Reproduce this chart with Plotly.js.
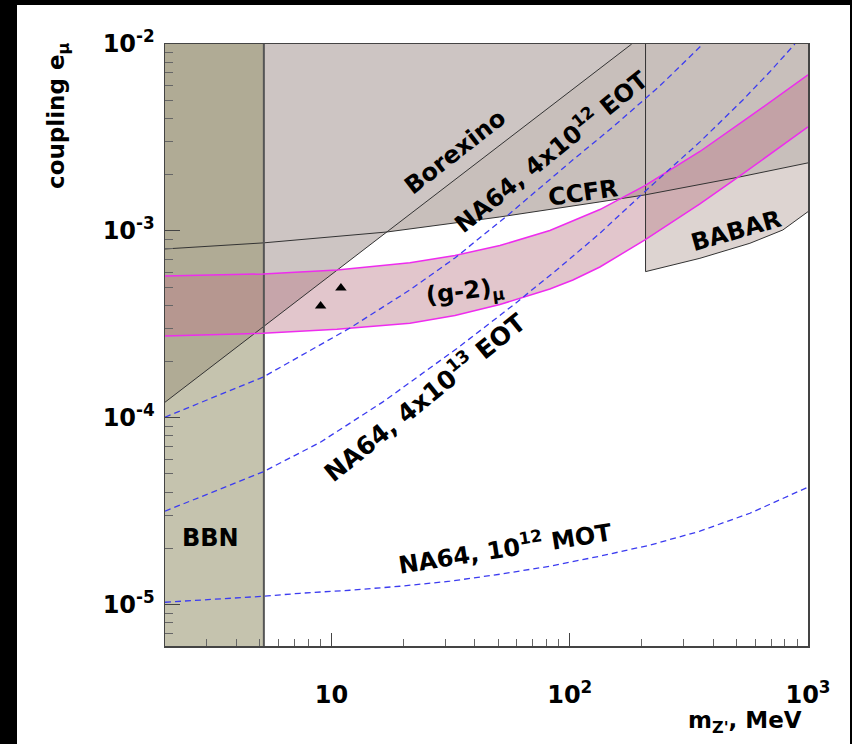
<!DOCTYPE html>
<html><head><meta charset="utf-8">
<script src="https://cdn.plot.ly/plotly-3.0.1.min.js"></script>
<style>
html,body{margin:0;padding:0;background:#000;width:852px;height:744px;overflow:hidden}
#chart{position:absolute;left:17px;top:5px;width:833px;height:739px;background:#fff}
</style></head><body><div id="chart"></div>
<script>
// ---- axis limits & tick labels ----
const xMin = 2, xMax = 1000, yMin = 6e-6, yMax = 1e-2;
const xTickVals = [10, 100, 1000];
const xTickText = ['10', '10<sup>2</sup>', '10<sup>3</sup>'];
const xMinorVals = [3, 4, 5, 6, 7, 8, 9, 20, 30, 40, 50, 60, 70, 80, 90, 200, 300, 400, 500, 600, 700, 800, 900];
const yTickVals = [1e-5, 1e-4, 1e-3, 1e-2];
const yTickText = ['10<sup>-5</sup>', '10<sup>-4</sup>', '10<sup>-3</sup>', '10<sup>-2</sup>'];
const yMinorVals = [6e-6, 7e-6, 8e-6, 9e-6, 2e-5, 3e-5, 4e-5, 5e-5, 6e-5, 7e-5, 8e-5, 9e-5,
  2e-4, 3e-4, 4e-4, 5e-4, 6e-4, 7e-4, 8e-4, 9e-4, 2e-3, 3e-3, 4e-3, 5e-3, 6e-3, 7e-3, 8e-3, 9e-3];

// ---- excluded regions ----
const bbnMass = 5.2;      // MeV
const babarMass = 208;    // MeV
const borexinoX = [2, 182];
const borexinoY = [1.21e-4, 1.0e-2];
const ccfrX = [2, 5.16, 17.08, 50.9, 133.8, 206.8, 517.7, 1000];
const ccfrY = [8.0e-4, 8.62e-4, 9.86e-4, 1.187e-3, 1.429e-3, 1.557e-3, 1.944e-3, 2.311e-3];
const babarX = [208, 351.8, 570.4, 784.3, 1000];
const babarY = [6.05e-4, 7.13e-4, 8.58e-4, 1.011e-3, 1.267e-3];

// ---- (g-2)mu band ----
const g2UpX = [2, 5.16, 10.54, 21.34, 32.96, 50.9, 82.5, 133.8, 206.8, 351.8, 570.4, 1000];
const g2UpY = [5.73e-4, 5.88e-4, 6.17e-4, 6.757e-4, 7.383e-4, 8.34e-4, 1.004e-3, 1.300e-3, 1.746e-3, 2.659e-3, 4.094e-3, 6.84e-3];
const g2LoX = [2, 5.16, 10.54, 21.34, 32.96, 50.9, 82.5, 103.1, 133.8, 206.8, 351.8, 517.7, 1000];
const g2LoY = [2.736e-4, 2.828e-4, 2.971e-4, 3.199e-4, 3.523e-4, 4.034e-4, 4.885e-4, 5.458e-4, 6.405e-4, 8.94e-4, 1.393e-3, 1.968e-3, 3.60e-3];

// ---- NA64 projections ----
const eot12X = [2, 5.16, 11.95, 21.34, 32.96, 54.5, 103.1, 151.8, 238.9, 362.2];
const eot12Y = [1.007e-4, 1.65e-4, 3.02e-4, 4.83e-4, 7.16e-4, 1.202e-3, 2.398e-3, 3.60e-3, 5.97e-3, 1.0e-2];
const eot13X = [2, 5.16, 8.98, 16.44, 33.6, 57.7, 88.3, 133.8, 217, 351.8, 533, 691.5, 880.6];
const eot13Y = [3.16e-5, 5.13e-5, 7.39e-5, 1.215e-4, 2.345e-4, 3.99e-4, 6.187e-4, 9.707e-4, 1.718e-3, 2.994e-3, 5.02e-3, 7.10e-3, 1.0e-2];
const motX = [2, 5.2, 7.37, 11.95, 19.37, 31.4, 50.9, 82.5, 133.8, 217, 351.8, 570.4, 1000];
const motY = [1.029e-5, 1.108e-5, 1.149e-5, 1.193e-5, 1.253e-5, 1.333e-5, 1.453e-5, 1.604e-5, 1.815e-5, 2.08e-5, 2.47e-5, 3.08e-5, 4.25e-5];

// ---- measured points ----
const triX = [9.0, 10.95];
const triY = [3.96e-4, 4.94e-4];

const F = 'DejaVu Sans, Arial, sans-serif';
function fillTrace(x, y, color) {
  return {x: x, y: y, type: 'scatter', mode: 'lines', fill: 'toself', fillcolor: color,
          line: {width: 0, color: 'rgba(0,0,0,0)'}, hoverinfo: 'skip'};
}
function lineTrace(x, y, color, width, dash) {
  return {x: x, y: y, type: 'scatter', mode: 'lines',
          line: {color: color, width: width, dash: dash || 'solid'}, hoverinfo: 'skip'};
}

const traces = [
  fillTrace(babarX.concat([xMax, babarX[0]]), babarY.concat([yMax, yMax]), '#ddd4d1'),
  fillTrace(ccfrX.concat([xMax, xMin]), ccfrY.concat([yMax, yMax]), '#c8bfbb'),
  fillTrace(borexinoX.concat([xMin]), borexinoY.concat([yMax]), '#cdc5c3'),
  fillTrace([xMin, bbnMass, bbnMass, xMin], [yMin, yMin, yMax, yMax], 'rgba(155,152,115,0.58)'),
  fillTrace(g2UpX.concat(g2LoX.slice().reverse()), g2UpY.concat(g2LoY.slice().reverse()), 'rgba(189,125,139,0.44)'),
  lineTrace(ccfrX, ccfrY, '#333', 1),
  lineTrace(borexinoX, borexinoY, '#333', 1),
  lineTrace([babarMass].concat(babarX), [yMax].concat(babarY), '#333', 1),
  lineTrace([bbnMass, bbnMass], [yMin, yMax], '#555', 2),
  lineTrace(g2UpX, g2UpY, '#ee2cee', 1.5),
  lineTrace(g2LoX, g2LoY, '#ee2cee', 1.5),
  lineTrace(eot12X, eot12Y, '#3c3cf0', 1.3, '6px,4px'),
  lineTrace(eot13X, eot13Y, '#3c3cf0', 1.3, '6px,4px'),
  lineTrace(motX, motY, '#3c3cf0', 1.3, '6px,4px'),
  {x: triX, y: triY, type: 'scatter', mode: 'markers',
   marker: {symbol: 'triangle-up', size: 10, color: '#000'}, hoverinfo: 'skip'}
];

function ann(text, x, y, angle, size) {
  return {text: text, x: Math.log10(x), y: Math.log10(y), xref: 'x', yref: 'y',
          showarrow: false, textangle: angle, xanchor: 'center', yanchor: 'middle',
          font: {family: F, size: size || 24, color: '#000', weight: 'bold'}};
}

const layout = {
  width: 833, height: 739,
  margin: {l: 148, r: 42, t: 39, b: 98},
  paper_bgcolor: '#fff', plot_bgcolor: '#fff',
  showlegend: false,
  font: {family: F, size: 23, color: '#000', weight: 'bold'},
  xaxis: {
    type: 'log', range: [Math.log10(xMin), Math.log10(xMax)],
    tickmode: 'array', tickvals: xTickVals, ticktext: xTickText,
    ticks: 'inside', ticklen: 13, tickwidth: 1, tickcolor: '#444',
    minor: {tickmode: 'array', tickvals: xMinorVals, ticks: 'inside', ticklen: 7, tickcolor: '#666', showgrid: false},
    showline: true, linecolor: '#444', linewidth: 1.5, mirror: true,
    showgrid: false, zeroline: false, ticklabelstandoff: 27,
    tickfont: {family: F, size: 24, color: '#000', weight: 'bold'}
  },
  yaxis: {
    type: 'log', range: [Math.log10(yMin), Math.log10(yMax)],
    tickmode: 'array', tickvals: yTickVals, ticktext: yTickText,
    ticks: 'inside', ticklen: 15, tickwidth: 1, tickcolor: '#444',
    minor: {tickmode: 'array', tickvals: yMinorVals, ticks: 'inside', ticklen: 8, tickcolor: '#666', showgrid: false},
    showline: true, linecolor: '#444', linewidth: 1.5, mirror: true,
    showgrid: false, zeroline: false, ticklabelstandoff: 4,
    tickfont: {family: F, size: 24, color: '#000', weight: 'bold'}
  },
  annotations: [
    ann('Borexino', 32.96, 2.65e-3, -38),
    ann('NA64, 4x10<sup>12</sup> EOT', 83.4, 2.71e-3, -39),
    ann('CCFR', 113.5, 1.596e-3, -8),
    ann('BABAR', 497.8, 9.99e-4, -16),
    ann('(g-2)<sub>μ</sub>', 36.3, 4.65e-4, -7),
    ann('NA64, 4x10<sup>13</sup> EOT', 24.5, 1.30e-4, -39, 25),
    ann('BBN', 3.09, 2.26e-5, 0),
    ann('NA64, 10<sup>12</sup> MOT', 53.5, 2.03e-5, -9),
    {text: 'coupling e<sub>μ</sub>', xref: 'paper', yref: 'paper', x: -0.1664, y: 0.8804,
     showarrow: false, textangle: -90, xanchor: 'center', yanchor: 'middle',
     font: {family: F, size: 23, color: '#000', weight: 'bold'}},
    {text: "m<sub>Z'</sub>, MeV", xref: 'paper', yref: 'paper', x: 0.9938, y: -0.1262,
     showarrow: false, xanchor: 'right', yanchor: 'middle',
     font: {family: F, size: 23, color: '#000', weight: 'bold'}}
  ]
};

Plotly.newPlot('chart', traces, layout, {displayModeBar: false, staticPlot: true});
</script></body></html>
